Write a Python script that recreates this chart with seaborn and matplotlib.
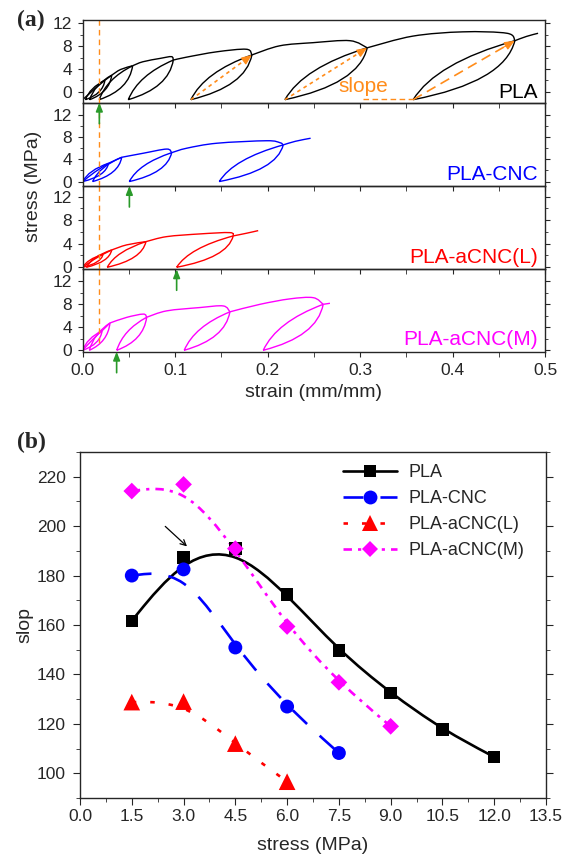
import numpy as np
import matplotlib
matplotlib.use("Agg")
import matplotlib.pyplot as plt
import seaborn as sns
from matplotlib.path import Path
from matplotlib.patches import PathPatch
from matplotlib.lines import Line2D

# ---------------- (a) cyclic loading curves ----------------
# envelope pieces: (strain, stress) points between loop tips
pla_env = [
    [(0.000, -1.4), (0.013, 0.5), (0.024, 2.0)],
    [(0.024, 2.0), (0.0314, 2.9)],
    [(0.0314, 2.9), (0.041, 3.9), (0.054, 4.55)],
    [(0.054, 4.55), (0.065, 5.25), (0.084, 5.85), (0.096, 6.15), (0.098, 5.55)],
    [(0.098, 5.55), (0.112, 6.05), (0.145, 7.0), (0.177, 7.45), (0.183, 6.45)],
    [(0.183, 6.45), (0.213, 8.05), (0.249, 8.6), (0.289, 8.95), (0.3077, 7.7)],
    [(0.3077, 7.7), (0.357, 9.75), (0.411, 10.5), (0.459, 10.25), (0.4674, 8.95)],
    [(0.4674, 8.95), (0.48, 9.7), (0.4925, 10.25)],
]
# loops: (base strain, tip strain, tip stress)
pla_loops = [(0.003, 0.024, 2.0), (0.0075, 0.0314, 2.9), (0.0179, 0.054, 4.55),
             (0.0493, 0.098, 5.55), (0.117, 0.183, 6.45), (0.2187, 0.3077, 7.7),
             (0.3574, 0.4674, 8.95)]

cnc_env = [
    [(0.0, 0.0), (0.013, 1.7), (0.028, 3.3)],
    [(0.028, 3.3), (0.0422, 4.37)],
    [(0.0422, 4.37), (0.0655, 5.1), (0.0908, 5.85), (0.0962, 5.2)],
    [(0.0962, 5.2), (0.1124, 6.0), (0.145, 6.9), (0.199, 7.35), (0.2133, 7.0), (0.2169, 6.6)],
    [(0.2169, 6.6), (0.23, 7.25), (0.2465, 7.8)],
]
cnc_loops = [(0.0, 0.028, 3.3), (0.0108, 0.0422, 4.37), (0.0504, 0.0962, 5.2),
             (0.1477, 0.2169, 6.6)]

acl_env = [
    [(0.0, 0.0), (0.012, 1.3), (0.022, 2.2)],
    [(0.022, 2.2), (0.0314, 2.94)],
    [(0.0314, 2.94), (0.0476, 3.8), (0.0684, 4.35)],
    [(0.0684, 4.35), (0.0908, 5.2), (0.1268, 5.66), (0.1592, 5.88), (0.1628, 5.32)],
    [(0.1628, 5.32), (0.1773, 5.78), (0.1898, 6.22)],
]
acl_loops = [(0.0, 0.022, 2.2), (0.004, 0.0314, 2.94), (0.0266, 0.0684, 4.35),
             (0.1016, 0.1628, 5.32)]

acm_env = [
    [(0.0, 0.0), (0.011, 1.9), (0.021, 3.4)],
    [(0.021, 3.4), (0.0295, 4.75)],
    [(0.0295, 4.75), (0.0476, 5.73), (0.0655, 6.3), (0.0692, 5.75)],
    [(0.0692, 5.75), (0.0908, 6.86), (0.1268, 7.44), (0.152, 7.72), (0.1592, 6.69)],
    [(0.1592, 6.69), (0.1917, 8.0), (0.2241, 8.95), (0.2493, 9.16), (0.2601, 8.0)],
    [(0.2601, 8.0), (0.2674, 8.18)],
]
acm_loops = [(0.0, 0.021, 3.4), (0.0072, 0.0295, 4.75), (0.0368, 0.0692, 5.75),
             (0.1098, 0.1592, 6.69), (0.1953, 0.2601, 8.0)]

samples = ["PLA", "PLA-CNC", "PLA-aCNC(L)", "PLA-aCNC(M)"]
colors = ["black", "#0000ff", "#ff0000", "#ff00ff"]
bases = [-1.4, 0.0, 0.0, 0.0]
green_marks = [0.018, 0.0505, 0.1016, 0.0367]
guide_loops = [4, 5, 6]
slope_base = (0.3033, 0.3574)

# ---------------- (b) slope vs stress ----------------
stress_levels = [1.5, 3.0, 4.5, 6.0, 7.5, 9.0, 10.5, 12.0]
slope_pla = [161.7, 187.4, 191.0, 172.4, 149.6, 132.4, 117.7, 106.6]
slope_cnc = [180.0, 182.5, 150.9, 127.0, 108.2]
slope_acl = [128.8, 129.0, 112.0, 96.6]
slope_acm = [214.2, 216.9, 190.9, 159.4, 136.8, 119.0]


def smooth_path(pts):
    p = np.asarray(pts, float)
    ext = np.vstack([p[0], p, p[-1]])
    verts, codes = [p[0]], [Path.MOVETO]
    for i in range(len(p) - 1):
        p0, p1, p2, p3 = ext[i], ext[i + 1], ext[i + 2], ext[i + 3]
        verts += [p1 + (p2 - p0) / 6, p2 - (p3 - p1) / 6, p2]
        codes += [Path.CURVE4] * 3
    return Path(verts, codes)


def loop_path(sb, eb, et, st):
    dx, dy = et - eb, st - sb
    verts = [(eb, sb), (eb + 0.22 * dx, sb + 0.62 * dy), (et, st),
             (eb + 0.9 * dx, sb + 0.3 * dy), (eb, sb)]
    codes = [Path.MOVETO] + [Path.CURVE3] * 4
    return Path(verts, codes)


def bspline_path(xs, ys):
    p = np.column_stack([xs, ys]).astype(float)
    p = np.vstack([p[0], p[0], p, p[-1], p[-1]])
    verts, codes = [], []
    for i in range(len(p) - 3):
        a, b, c, d = p[i:i + 4]
        seg = [(a + 4 * b + c) / 6, (4 * b + 2 * c) / 6, (2 * b + 4 * c) / 6, (b + 4 * c + d) / 6]
        if not verts:
            verts.append(seg[0]); codes.append(Path.MOVETO)
        verts += seg[1:]; codes += [Path.CURVE4] * 3
    return Path(verts, codes)


sns.set_style("ticks")
plt.rcParams["font.family"] = ["Liberation Sans", "DejaVu Sans"]
plt.rcParams["axes.linewidth"] = 1.0

W, H = 567, 861
fig = plt.figure(figsize=(W / 100, H / 100), dpi=100)


def rect(l, t, r, b):
    return [l / W, 1 - b / H, (r - l) / W, (b - t) / H]


tops = [20, 102.7, 186, 269.3]
bots = [102.7, 186, 269.3, 351.7]
ylims = [(-1.93, 12.58), (-0.8, 14.2), (-0.35, 13.8), (-0.25, 14.1)]
label_y = [0.055, 0.075, 0.08, 0.085]
envs = [pla_env, cnc_env, acl_env, acm_env]
loops = [pla_loops, cnc_loops, acl_loops, acm_loops]
orange = "#ff8c1a"
green = "#2a9a2a"

top_axes = []
for i in range(4):
    ax = fig.add_axes(rect(82.7, tops[i], 545, bots[i]))
    ax.set_zorder(10 - i)
    ax.set_facecolor("none")
    top_axes.append(ax)
    for seg in envs[i]:
        ax.add_patch(PathPatch(smooth_path(seg), fill=False, edgecolor=colors[i], lw=1.0))
    for eb, et, st in loops[i]:
        ax.add_patch(PathPatch(loop_path(bases[i], eb, et, st), fill=False,
                               edgecolor=colors[i], lw=1.0))
    ax.set_xlim(0, 0.5)
    ax.set_ylim(*ylims[i])
    ax.set_yticks([0, 4, 8, 12])
    ax.set_yticks([2, 6, 10], minor=True)
    ax.set_xticks(np.arange(0, 0.51, 0.1))
    ax.set_xticks(np.arange(0.05, 0.5, 0.1), minor=True)
    ax.tick_params(axis="y", which="both", direction="out", right=True, labelsize=12.5,
                   pad=4)
    ax.tick_params(axis="y", which="major", length=3.5)
    ax.tick_params(axis="y", which="minor", length=2)
    ax.tick_params(axis="x", which="both", direction="out", length=3.4, labelsize=12.5,
                   labelbottom=(i == 3), pad=5)
    ax.text(0.985, label_y[i], samples[i], transform=ax.transAxes, ha="right",
            va="baseline", color=colors[i], fontsize=15)
    ax.axvline(0.018, ymin=0.1 if i == 3 else 0, ymax=1, color=orange, lw=1.0,
               ls=(0, (4, 3)))
    ax.annotate("", xy=(green_marks[i], 0), xycoords=("data", "axes fraction"),
                xytext=(0, -21), textcoords="offset pixels", annotation_clip=False,
                arrowprops=dict(arrowstyle="-|>,head_length=0.5,head_width=0.2",
                                color=green, lw=1.2, shrinkA=0, shrinkB=0))

# slope guides in the PLA panel
ax1 = top_axes[0]
guide_ls = [(0, (2.2, 2.2)), (0, (2.2, 2.2)), (0, (6, 3.5))]
for k, ls in zip(guide_loops, guide_ls):
    eb, et, st = pla_loops[k]
    b = bases[0]
    ax1.plot([eb, eb + 0.93 * (et - eb)], [b, b + 0.93 * (st - b)], color=orange, lw=1.2, ls=ls)
    ax1.annotate("", xy=(et, st), xytext=(eb + 0.9 * (et - eb), b + 0.9 * (st - b)),
                 arrowprops=dict(arrowstyle="-|>,head_length=0.6,head_width=0.25",
                                 color=orange, lw=1.0, shrinkA=0, shrinkB=0))
ax1.plot(slope_base, [bases[0] + 0.1] * 2, color=orange, lw=1.0, ls=(0, (4, 2.5)))
ax1.text(np.mean(slope_base) - 0.027, 0.0, "slope", color=orange, fontsize=15,
         ha="center", va="baseline")

top_axes[3].set_xlabel("strain (mm/mm)", fontsize=14, labelpad=4)
fig.text(33 / W, 1 - 186 / H, "stress (MPa)", rotation=90, ha="center", va="center",
         fontsize=14)

# ---------------- (b) ----------------
axb = fig.add_axes(rect(80, 452, 546, 798))
series = [
    ("PLA", slope_pla, "black", "s", 9, "-"),
    ("PLA-CNC", slope_cnc, "#0000ff", "o", 10, (0, (7.5, 6.5))),
    ("PLA-aCNC(L)", slope_acl, "#ff0000", "^", 12, (0, (1.7, 5.3))),
    ("PLA-aCNC(M)", slope_acm, "#ff00ff", "D", 8.5, (0, (3.2, 2.3, 1.2, 2.3))),
]
handles = []
for name, vals, c, m, ms, ls in series:
    xs = stress_levels[:len(vals)]
    axb.add_patch(PathPatch(bspline_path(xs, vals), fill=False, edgecolor=c, lw=1.9,
                            ls=ls, zorder=2))
    sns.scatterplot(x=xs, y=vals, marker=m, s=ms ** 2, color=c, edgecolor="none",
                    linewidth=0, ax=axb, zorder=3)
    handles.append(Line2D([], [], color=c, lw=1.9, ls=ls, marker=m, markersize=ms,
                          markeredgewidth=0))

axb.annotate("", xy=(3.1, 191.8), xytext=(2.47, 199.9),
             arrowprops=dict(arrowstyle="->,head_length=0.4,head_width=0.2",
                             color="black", lw=0.9, shrinkA=0, shrinkB=0))
axb.set_xlim(0, 13.5)
axb.set_ylim(90, 230)
axb.set_xticks(np.arange(0, 13.6, 1.5))
axb.set_xticklabels([f"{v:.1f}" for v in np.arange(0, 13.6, 1.5)])
axb.set_xticks(np.arange(0.75, 13.5, 1.5), minor=True)
axb.set_yticks(np.arange(100, 221, 20))
axb.set_yticks(np.arange(90, 231, 10), minor=True)
axb.tick_params(which="both", direction="out", labelsize=12.5, right=True)
axb.tick_params(which="major", length=5)
axb.tick_params(which="minor", length=3)
axb.tick_params(axis="y", pad=5)
axb.tick_params(axis="x", pad=3)
axb.set_xlabel("stress (MPa)", fontsize=14, labelpad=9)
axb.set_ylabel("slop", fontsize=14, labelpad=3)
axb.legend(handles, [s[0] for s in series], loc="upper left", bbox_to_anchor=(0.565, 0.965),
           frameon=False, fontsize=13, handlelength=3.0, handletextpad=0.6,
           labelspacing=0.5, borderaxespad=0, borderpad=0, numpoints=1)

fig.text(0.03, 1 - 10 / H, "(a)", fontsize=17, fontweight="bold", family="Liberation Serif",
         va="top", ha="left")
fig.text(0.03, 1 - 432 / H, "(b)", fontsize=17, fontweight="bold", family="Liberation Serif",
         va="top", ha="left")

fig.savefig("out.png", dpi=100)
